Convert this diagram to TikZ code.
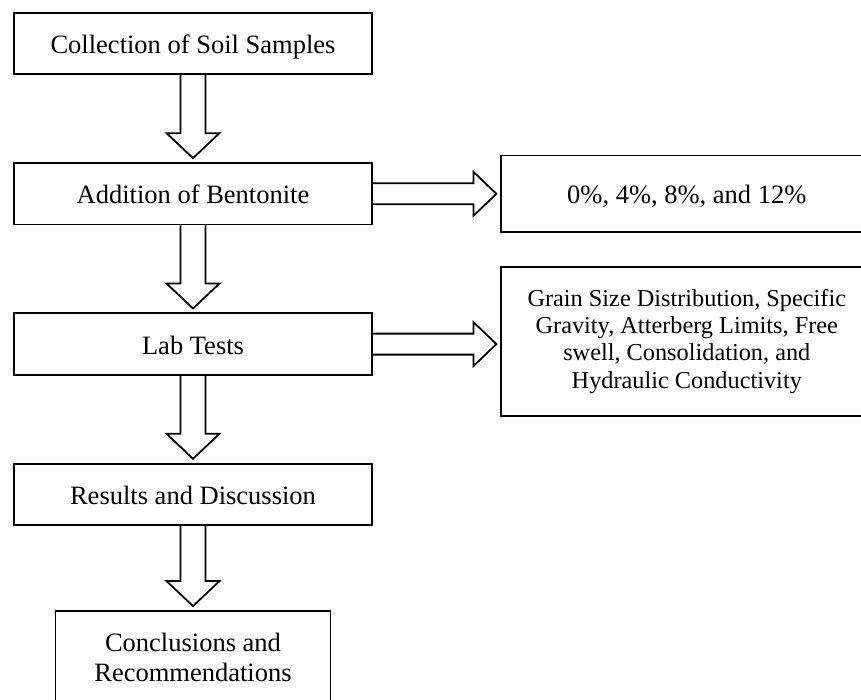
\documentclass[tikz,border=0pt]{standalone}
\usepackage{fontspec}
\setmainfont{Liberation Serif}
\usetikzlibrary{ % tikz packages
    positioning,calc
}
\tikzset{
    box/.style={draw, rectangle, line width=1.8pt,
        font=\fontsize{26.5}{30.5}\selectfont},
    stepbox/.style={box, minimum width=358pt, minimum height=61.5pt,
        text height=26pt, text depth=6pt},
    sidebox/.style={box, minimum width=372pt},
    blockline/.style={line width=1.8pt, line join=miter}
}
% hollow block arrows, from a box edge to the next box
\newcommand{\blockdown}[2]{%
    \draw[blockline] let \p1=(#1.south), \p2=([yshift=4pt]#2.north) in
        (\x1-12.5pt,\y1) -- (\x1-12.5pt,\y2+25pt) -- (\x1-26.5pt,\y2+25pt)
        -- (\x1,\y2) -- (\x1+26.5pt,\y2+25pt) -- (\x1+12.5pt,\y2+25pt)
        -- (\x1+12.5pt,\y1);}
\newcommand{\blockright}[2]{%
    \draw[blockline] let \p1=(#1.east), \p2=([xshift=-3.5pt]#2.west) in
        (\x1,\y1+10.5pt) -- (\x2-23pt,\y1+10.5pt) -- (\x2-23pt,\y1+22pt)
        -- (\x2,\y1) -- (\x2-23pt,\y1-22pt) -- (\x2-23pt,\y1-10.5pt)
        -- (\x1,\y1-10.5pt);}

\begin{document}
\begin{tikzpicture}[x=1pt,y=-1pt,node distance=87pt]
    \useasboundingbox (0,0) rectangle (861,699);
    \clip (0,0) rectangle (861,699);

    \node[stepbox] (soil) at (193,43.5) {Collection of Soil Samples};
    \node[stepbox] (bent) [below=of soil] {Addition of Bentonite};
    \node[stepbox] (lab) [below=of bent] {Lab Tests};
    \node[stepbox] (res) [below=of lab] {Results and Discussion};
    \node[box, minimum width=275pt, minimum height=99pt] (concl)
        [below=84pt of res]
        {\begin{tabular}{@{}c@{}}Conclusions and\\Recommendations\end{tabular}};

    \node[sidebox, minimum height=76.5pt, text height=26pt, text depth=6pt]
        (pct) [right=127pt of bent] {0\%, 4\%, 8\%, and 12\%};
    \node[sidebox, minimum height=149.5pt, font=\fontsize{24.3}{27.3}\selectfont]
        (tests) [right=127pt of lab, yshift=2.5pt]
        {\begin{tabular}{@{}c@{}}Grain Size Distribution, Specific\\
        Gravity, Atterberg Limits, Free\\
        swell, Consolidation, and\\
        Hydraulic Conductivity\end{tabular}};

    \foreach \a/\b in {soil/bent, bent/lab, lab/res, res/concl}
        \blockdown{\a}{\b};
    \blockright{bent}{pct}
    \blockright{lab}{tests}
\end{tikzpicture}
\end{document}
